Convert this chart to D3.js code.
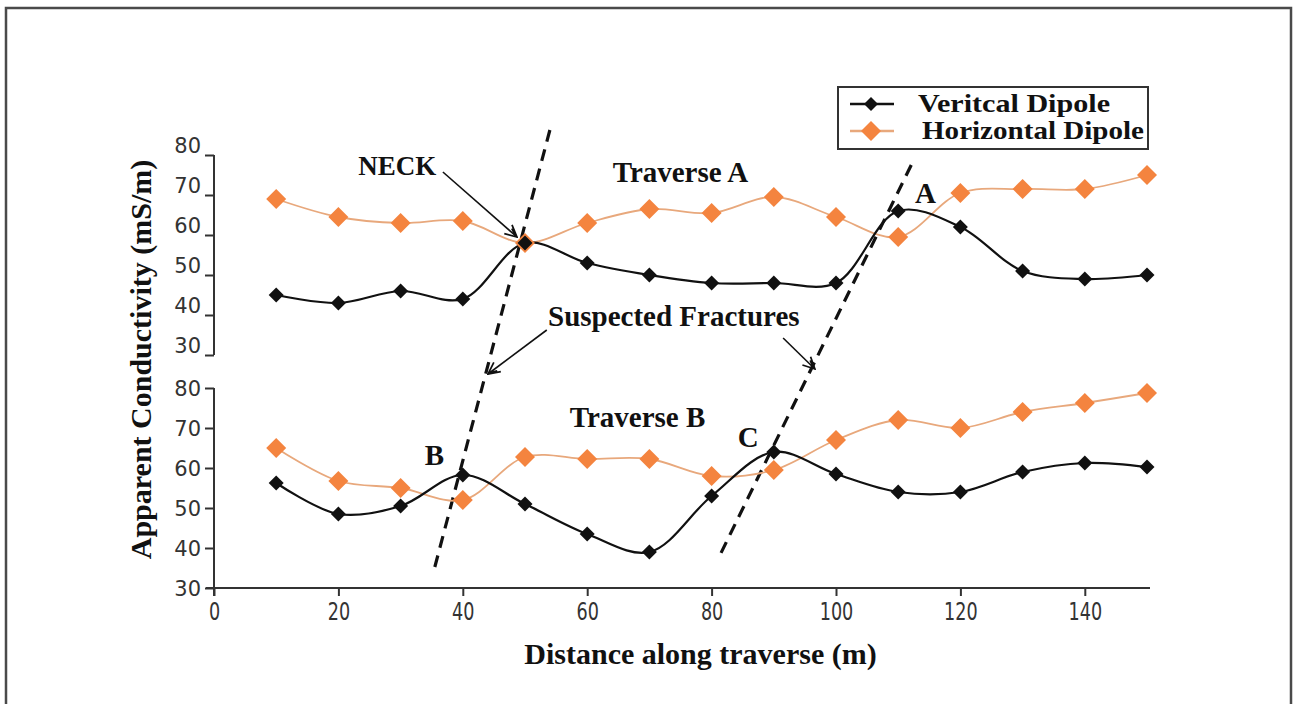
<!DOCTYPE html>
<html>
<head>
<meta charset="utf-8">
<script src="https://cdn.jsdelivr.net/npm/d3@7"></script>
<style>
  html, body { margin: 0; padding: 0; background: #ffffff; }
  svg { display: block; }
  .serif { font-family: "Liberation Serif", "Times New Roman", serif; font-weight: bold; fill: #111; }
  .tick text { font-family: "DejaVu Sans", sans-serif; fill: #333; }
</style>
</head>
<body>
<svg id="chart" width="1294" height="704"></svg>
<script>
// ---------------- data ----------------
const distances = [10, 20, 30, 40, 50, 60, 70, 80, 90, 100, 110, 120, 130, 140, 150];
const traverseA_vertical   = [45, 43, 46, 44, 58, 53, 50, 48, 48, 48, 66, 62, 51, 49, 50];
const traverseA_horizontal = [69, 64.5, 63, 63.5, 58, 63, 66.5, 65.5, 69.5, 64.5, 59.5, 70.5, 71.5, 71.5, 75];
const traverseB_vertical   = [56.25, 48.5, 50.5, 58.25, 51, 43.5, 39, 53, 64, 58.5, 54, 54, 59, 61.25, 60.25];
const traverseB_horizontal = [65, 56.75, 55, 52, 62.75, 62.25, 62.25, 58, 59.5, 67, 72, 70, 74, 76.25, 78.75];

const yTickValues = [30, 40, 50, 60, 70, 80];
const xTickValues = [0, 20, 40, 60, 80, 100, 120, 140];
const seriesNames = ["Veritcal Dipole", "Horizontal Dipole"];

// annotations in data units (panel A = upper axis, B = lower axis)
const annotationTexts = [
  { text: "NECK", x: 23.2, y: 75.0, panel: "A" },
  { text: "Traverse A", x: 64.1, y: 73.25, panel: "A" },
  { text: "A", x: 112.7, y: 68, panel: "A" },
  { text: "Suspected Fractures", x: 53.7, y: 37.25, panel: "A" },
  { text: "Traverse B", x: 57.2, y: 70.25, panel: "B" },
  { text: "B", x: 33.9, y: 60.75, panel: "B" },
  { text: "C", x: 84.2, y: 65.25, panel: "B" }
];
const annotationArrows = [
  { x1: 36.8, y1: 75.75, x2: 48.7, y2: 59.5, panel: "A" },
  { x1: 53.5, y1: 36.25, x2: 44.05, y2: 25.25, panel: "A" },
  { x1: 91.5, y1: 34.25, x2: 96.6, y2: 26.5, panel: "A" }
];
const fractureLines = [
  { x1: 54.0, y1: 144.5, x2: 35.5, y2: 35.25, panel: "B" },
  { x1: 112.1, y1: 135.75, x2: 81.35, y2: 38.25, panel: "B" }
];

// ---------------- layout ----------------
const svg = d3.select("#chart");
const colorBlack = "#111111";
const colorOrange = "#f4843f";
const colorOrangeLine = "#e8a87c";

const x = d3.scaleLinear().domain([0, 150]).range([214, 1147]);
const yA = d3.scaleLinear().domain([30, 80]).range([355, 155]);
const yB = d3.scaleLinear().domain([30, 80]).range([588, 388]);
const yOf = p => (p === "A" ? yA : yB);

// outer frame
svg.append("rect").attr("x", 6).attr("y", 8).attr("width", 1285).attr("height", 720)
  .attr("fill", "#fff").attr("stroke", "#4a4a4a").attr("stroke-width", 2.5);

// ---------------- axes ----------------
function styleAxis(g, size) {
  g.selectAll(".domain").remove();
  g.selectAll(".tick line").attr("stroke", "#333").attr("stroke-width", 2);
  g.selectAll(".tick text").attr("font-size", size);
}
const gyA = svg.append("g").attr("transform", `translate(${x(0)},0)`)
  .call(d3.axisLeft(yA).tickValues(yTickValues).tickSize(9).tickPadding(4));
styleAxis(gyA, 21);
gyA.selectAll(".tick text").attr("dy", "-0.12em");
const gyB = svg.append("g").attr("transform", `translate(${x(0)},0)`)
  .call(d3.axisLeft(yB).tickValues(yTickValues).tickSize(9).tickPadding(4));
styleAxis(gyB, 21);
gyB.selectAll(".tick text").attr("dy", "0.34em");

// axis spines
svg.append("line").attr("x1", x(0)).attr("x2", x(0)).attr("y1", yA(80)).attr("y2", yA(30))
  .attr("stroke", "#333").attr("stroke-width", 2);
svg.append("line").attr("x1", x(0)).attr("x2", x(0)).attr("y1", yB(80)).attr("y2", yB(30) + 8)
  .attr("stroke", "#333").attr("stroke-width", 2);

const gx = svg.append("g").attr("transform", `translate(0,${yB(30)})`)
  .call(d3.axisBottom(x).tickValues(xTickValues).tickSize(8).tickPadding(5));
styleAxis(gx, 22);
gx.selectAll(".tick text").attr("transform", "scale(0.8,1.12)");
svg.append("line").attr("x1", x(0) - 8).attr("x2", x(150) + 3).attr("y1", yB(30)).attr("y2", yB(30))
  .attr("stroke", "#333").attr("stroke-width", 2);

// axis titles
svg.append("text").attr("class", "serif").attr("font-size", 30)
  .attr("text-anchor", "middle").attr("x", (x(0) + x(150)) / 2 + 20).attr("y", 664)
  .text("Distance along traverse (m)");
svg.append("text").attr("class", "serif").attr("font-size", 30)
  .attr("text-anchor", "middle")
  .attr("transform", `translate(151,${(yA(80) + yB(30)) / 2 - 12}) rotate(-90)`)
  .text("Apparent Conductivity (mS/m)");

// ---------------- fracture lines ----------------
svg.append("g").selectAll("line").data(fractureLines).join("line")
  .attr("x1", d => x(d.x1)).attr("y1", d => yOf(d.panel)(d.y1))
  .attr("x2", d => x(d.x2)).attr("y2", d => yOf(d.panel)(d.y2))
  .attr("stroke", "#111").attr("stroke-width", 3.2).attr("stroke-dasharray", "12,8");

// ---------------- series ----------------
const diamond = r => `M0,${-r}L${r},0L0,${r}L${-r},0Z`;
const lineGen = yScale => d3.line()
  .x((d, i) => x(distances[i])).y(d => yScale(d))
  .curve(d3.curveCatmullRom.alpha(0.5));

const series = [
  { vals: traverseA_horizontal, y: yA, kind: "h" },
  { vals: traverseB_horizontal, y: yB, kind: "h" },
  { vals: traverseA_vertical, y: yA, kind: "v" },
  { vals: traverseB_vertical, y: yB, kind: "v" }
];
series.forEach(s => {
  const isH = s.kind === "h";
  svg.append("path").datum(s.vals).attr("d", lineGen(s.y)).attr("fill", "none")
    .attr("stroke", isH ? colorOrangeLine : colorBlack).attr("stroke-width", isH ? 1.8 : 2.2);
});
series.forEach(s => {
  const isH = s.kind === "h";
  svg.append("g").selectAll("path").data(s.vals).join("path")
    .attr("transform", (d, i) => `translate(${x(distances[i])},${s.y(d)})`)
    .attr("d", diamond(isH ? 10 : 7.5))
    .attr("fill", isH ? colorOrange : colorBlack);
});

// ---------------- annotations ----------------
svg.append("defs").append("marker").attr("id", "arrowhead")
  .attr("viewBox", "0 0 12 12").attr("refX", 11).attr("refY", 6)
  .attr("markerWidth", 14).attr("markerHeight", 14).attr("markerUnits", "userSpaceOnUse")
  .attr("orient", "auto")
  .append("path").attr("d", "M1,1L11,6L1,11M3,3.5L9,6").attr("fill", "none")
  .attr("stroke", "#111").attr("stroke-width", 1.5);

svg.append("g").selectAll("line").data(annotationArrows).join("line")
  .attr("x1", d => x(d.x1)).attr("y1", d => yOf(d.panel)(d.y1))
  .attr("x2", d => x(d.x2)).attr("y2", d => yOf(d.panel)(d.y2))
  .attr("stroke", "#111").attr("stroke-width", 1.6).attr("marker-end", "url(#arrowhead)");

svg.append("g").selectAll("text").data(annotationTexts).join("text")
  .attr("class", "serif").attr("font-size", d => d.text === "NECK" ? 27 : 29)
  .attr("x", d => x(d.x)).attr("y", d => yOf(d.panel)(d.y))
  .text(d => d.text);

// ---------------- legend ----------------
const lg = svg.append("g");
lg.append("rect").attr("x", 838).attr("y", 87).attr("width", 310).attr("height", 62)
  .attr("fill", "#fff").attr("stroke", "#333").attr("stroke-width", 2);
const legendItems = [
  { name: seriesNames[0], line: colorBlack, fill: colorBlack, r: 7, y: 104, tx: 918, w: 192 },
  { name: seriesNames[1], line: colorOrangeLine, fill: colorOrange, r: 10, y: 131, tx: 922, w: 222 }
];
legendItems.forEach(it => {
  lg.append("line").attr("x1", 850).attr("x2", 894).attr("y1", it.y).attr("y2", it.y)
    .attr("stroke", it.line).attr("stroke-width", 2.5);
  lg.append("path").attr("transform", `translate(871,${it.y})`).attr("d", diamond(it.r)).attr("fill", it.fill);
  lg.append("text").attr("class", "serif").attr("font-size", 25)
    .attr("textLength", it.w).attr("lengthAdjust", "spacingAndGlyphs")
    .attr("x", it.tx).attr("y", it.y + 8).text(it.name);
});
</script>
</body>
</html>
